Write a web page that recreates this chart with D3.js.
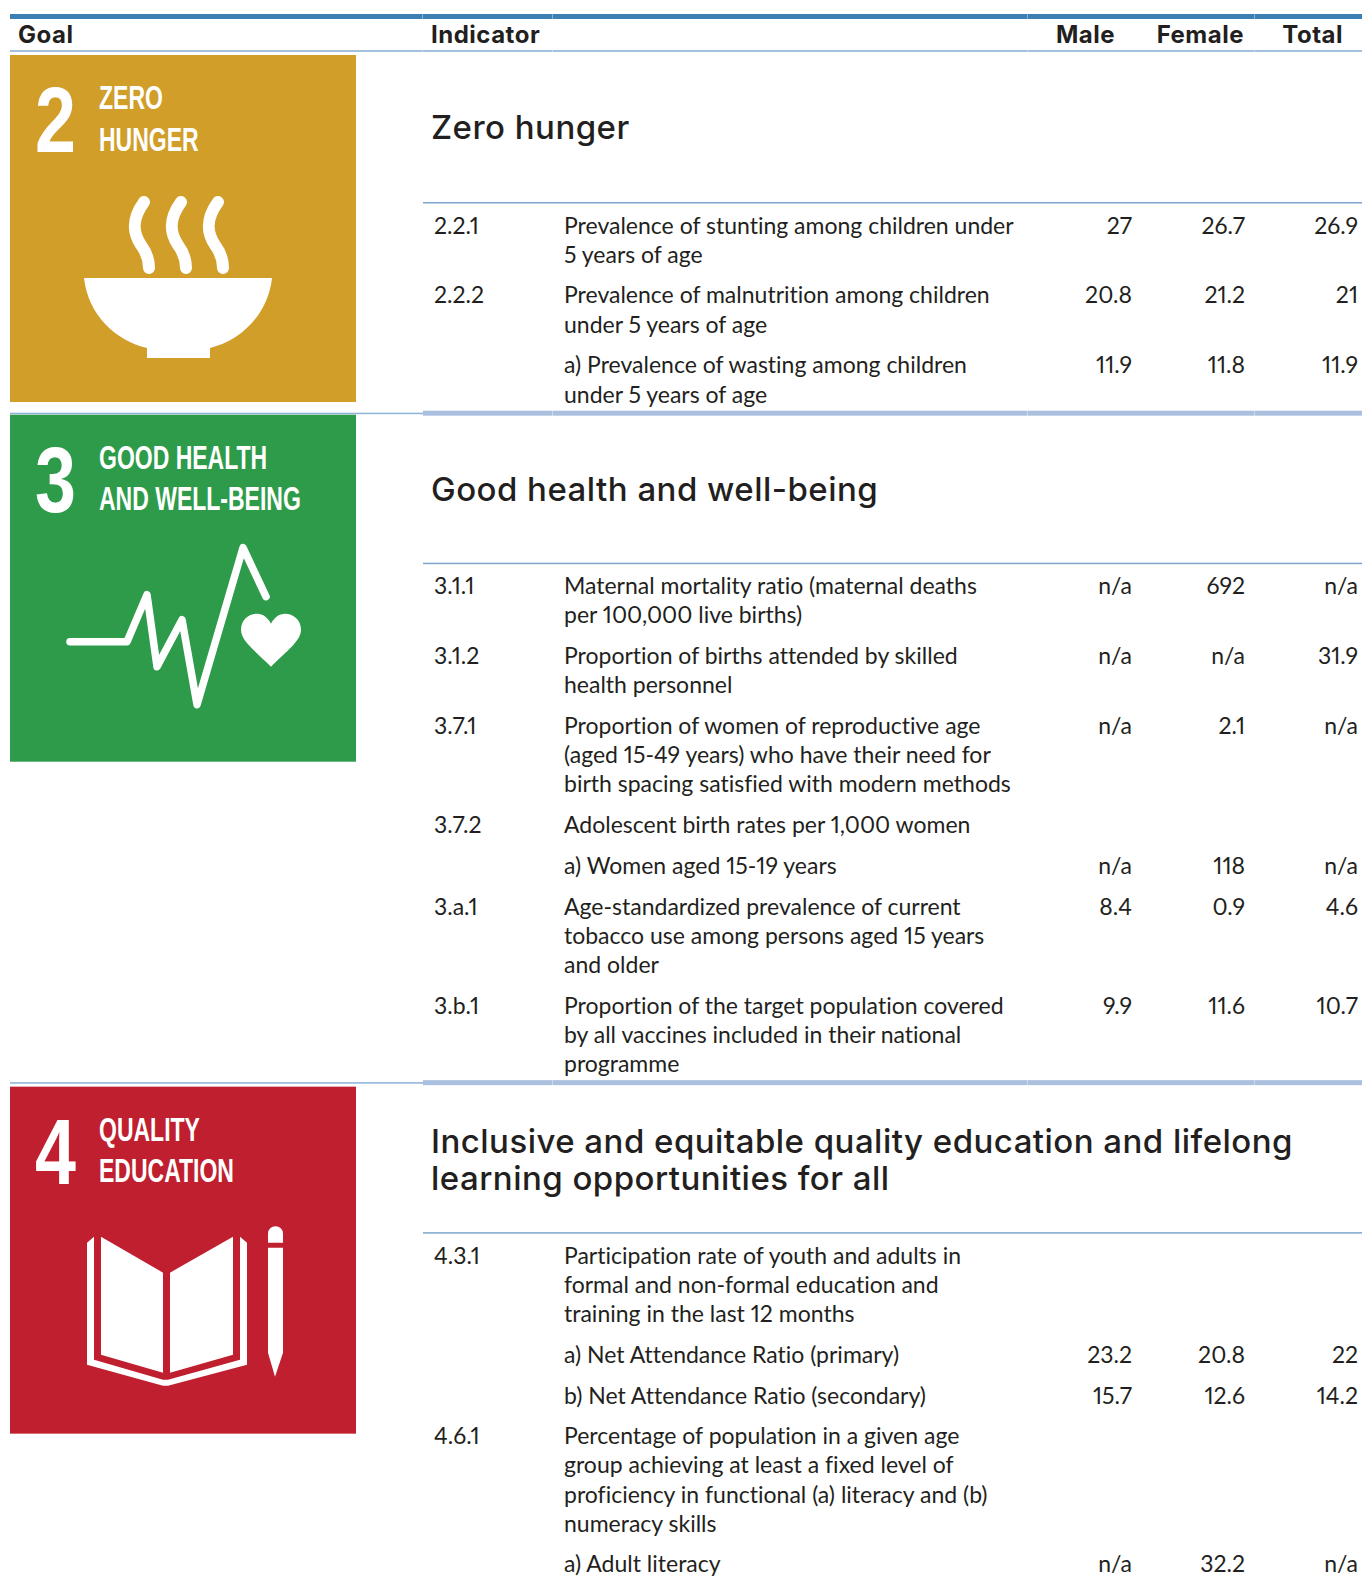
<!DOCTYPE html>
<html>
<head>
<meta charset="utf-8">
<script src="https://cdn.jsdelivr.net/npm/d3@7"></script>
<style>
  html, body { margin: 0; padding: 0; background: #fff; }
  svg { display: block; }
  text { fill: #231f20; }
  .head { font: 700 24px "Inter", sans-serif; letter-spacing: .5px; }
  .title { font: 500 33px "Inter", sans-serif; letter-spacing: .47px; }
  .cell { font: 400 23px "Lato", sans-serif; font-variant-numeric: proportional-nums; font-variant-ligatures: none; }
  .tile text { fill: #fff; font-family: "Liberation Sans Narrow", "Liberation Sans", sans-serif; font-weight: 700; }
</style>
</head>
<body>
<div id="table"></div>
<script>
let width = 1362, height = 1576;

// Column heads
const headLabels = ['Goal', 'Indicator', 'Male', 'Female', 'Total'];

// Goal 2
const hungerTitle = ['Zero hunger'];
const hungerCodes = ['2.2.1', '2.2.2', ''];
const hungerLabels = [
  ['Prevalence of stunting among children under', '5 years of age'],
  ['Prevalence of malnutrition among children', 'under 5 years of age'],
  ['a) Prevalence of wasting among children', 'under 5 years of age']
];
const hungerMale = ['27', '20.8', '11.9'];
const hungerFemale = ['26.7', '21.2', '11.8'];
const hungerTotal = ['26.9', '21', '11.9'];

// Goal 3
const healthTitle = ['Good health and well-being'];
const healthCodes = ['3.1.1', '3.1.2', '3.7.1', '3.7.2', '', '3.a.1', '3.b.1'];
const healthLabels = [
  ['Maternal mortality ratio (maternal deaths', 'per 100,000 live births)'],
  ['Proportion of births attended by skilled', 'health personnel'],
  ['Proportion of women of reproductive age', '(aged 15-49 years) who have their need for', 'birth spacing satisfied with modern methods'],
  ['Adolescent birth rates per 1,000 women'],
  ['a) Women aged 15-19 years'],
  ['Age-standardized prevalence of current', 'tobacco use among persons aged 15 years', 'and older'],
  ['Proportion of the target population covered', 'by all vaccines included in their national', 'programme']
];
const healthMale = ['n/a', 'n/a', 'n/a', '', 'n/a', '8.4', '9.9'];
const healthFemale = ['692', 'n/a', '2.1', '', '118', '0.9', '11.6'];
const healthTotal = ['n/a', '31.9', 'n/a', '', 'n/a', '4.6', '10.7'];

// Goal 4
const educationTitle = ['Inclusive and equitable quality education and lifelong', 'learning opportunities for all'];
const educationCodes = ['4.3.1', '', '', '4.6.1', ''];
const educationLabels = [
  ['Participation rate of youth and adults in', 'formal and non-formal education and', 'training in the last 12 months'],
  ['a) Net Attendance Ratio (primary)'],
  ['b) Net Attendance Ratio (secondary)'],
  ['Percentage of population in a given age', 'group achieving at least a fixed level of', 'proficiency in functional (a) literacy and (b)', 'numeracy skills'],
  ['a) Adult literacy']
];
const educationMale = ['', '23.2', '15.7', '', 'n/a'];
const educationFemale = ['', '20.8', '12.6', '', '32.2'];
const educationTotal = ['', '22', '14.2', '', 'n/a'];

// Tile texts and colours
const tileNumbers = ['2', '3', '4'];
const tileNames = [['ZERO', 'HUNGER'], ['GOOD HEALTH', 'AND WELL-BEING'], ['QUALITY', 'EDUCATION']];
const tileColors = ['#d09e29', '#2d9b49', '#c01f2f'];

// table built from the lists above
let goals = [
  { title: hungerTitle, codes: hungerCodes, labels: hungerLabels, male: hungerMale, female: hungerFemale, total: hungerTotal },
  { title: healthTitle, codes: healthCodes, labels: healthLabels, male: healthMale, female: healthFemale, total: healthTotal },
  { title: educationTitle, codes: educationCodes, labels: educationLabels, male: educationMale, female: educationFemale, total: educationTotal }
];

let svg = d3.select('#table')
  .append('svg')
  .attr('width', width)
  .attr('height', height);

// columns
let seams = [10, 423, 553, 1028, 1255, 1362];
let colX = d3.scaleOrdinal()
  .domain(['code', 'label', 'male', 'female', 'total'])
  .range([434, 564, 1132, 1245, 1358]);

// y position from a number of text lines + number of row gaps
let lineH = 29.15, gapH = 11.6, titleH = 151;
let flowY = (lines, gaps) => lines * lineH + gaps * gapH;

// band across the columns, with faint seams where cells meet
let band = (y, h, color, from, to) => {
  d3.pairs(seams).filter(p => p[0] >= from && p[1] <= to).forEach(p => {
    svg.append('rect')
      .attr('x', p[0]).attr('y', y)
      .attr('width', p[1] - p[0] - (p[1] < width ? .4 : 0)).attr('height', h)
      .attr('fill', color);
  });
};

// head
band(14, 5, '#3b7fb4', 10, 1362);
band(50, 2, '#a3c0da', 10, 1362);
let headX = [18, 431, 1115, 1244, 1343];
svg.selectAll('.head')
  .data(headLabels)
  .enter()
  .append('text')
  .attr('class', 'head')
  .attr('x', (d, i) => headX[i])
  .attr('y', 43)
  .attr('text-anchor', (d, i) => i < 2 ? 'start' : 'end')
  .text(d => d);

// tile pictures, in tile coordinates
let drawBowl = g => {
  [0, 37, 74].forEach(dx => {
    g.append('path')
      .attr('d', `M${134 + dx},147 C${121 + dx},165 ${123 + dx},178 ${131 + dx},190 C${137 + dx},198 ${139 + dx},205 ${139 + dx},213`)
      .attr('fill', 'none').attr('stroke', '#fff').attr('stroke-width', 12).attr('stroke-linecap', 'round');
  });
  g.append('path')
    .attr('d', 'M74,223 L262,223 C258,260 230,286 200,293 L200,303 L137,303 L137,293 C106,286 78,260 74,223 Z')
    .attr('fill', '#fff');
};

let drawPulse = g => {
  let line = d3.line();
  g.append('path')
    .attr('d', line([[60, 227], [117, 227], [137, 180], [147, 252], [172, 205], [187, 290], [233, 133], [256, 182]]))
    .attr('fill', 'none').attr('stroke', '#fff').attr('stroke-width', 7.5)
    .attr('stroke-linecap', 'round').attr('stroke-linejoin', 'round');
  g.append('path')
    .attr('d', 'M261,252 C245,236 231,226 231,215 C231,205 239,199 247,199 C253,199 258,203 261,209 C264,203 269,199 275,199 C283,199 291,205 291,215 C291,226 277,236 261,252 Z')
    .attr('fill', '#fff');
};

let drawBook = g => {
  g.append('path')
    .attr('d', 'M91,150 L153,186 L153,286 L91,268 Z M160,186 L223,150 L223,268 L160,286 Z M77,156 L84,150 L84,273 L153,293 L158,293 L230,273 L230,150 L237,156 L237,278 L158,299 L153,299 L77,278 Z')
    .attr('fill', '#fff');
  g.append('path')
    .attr('d', 'M258,156 L258,147 A7.5,7.5 0 0 1 273,147 L273,156 Z M258,161 L273,161 L273,266 L265,290 L258,266 Z')
    .attr('fill', '#fff');
};

let tileDraw = [drawBowl, drawPulse, drawBook];
let tileDrop = [3, 2, 4.5];
let titleDrop = [75.5, 76.5, 77.5];

// goal sections
let sectionTop = 52;
goals.forEach((goal, k) => {
  let tile = svg.append('g')
    .attr('class', 'tile')
    .attr('transform', `translate(10,${sectionTop + tileDrop[k]})`);

  tile.append('rect').attr('width', 346).attr('height', 347).attr('fill', tileColors[k]);
  tile.append('text')
    .attr('transform', `translate(25,97) scale(.8,1)`)
    .style('font-size', '92px')
    .text(tileNumbers[k]);
  tileNames[k].forEach((name, i) => {
    tile.append('text')
      .attr('transform', `translate(89,${54 + i * 41.5}) scale(.92,1.33)`)
      .style('font-size', '25px')
      .text(name);
  });
  tileDraw[k](tile);

  // section title, centred over the rule below it
  let titleMid = sectionTop + titleDrop[k];
  let titleGap = 37;
  goal.title.forEach((t, i) => {
    svg.append('text')
      .attr('class', 'title')
      .attr('x', 431)
      .attr('y', titleMid + (i - (goal.title.length - 1) / 2) * titleGap)
      .attr('dy', '.35em')
      .text(t);
  });

  let ruleY = sectionTop + titleH;
  svg.append('rect').attr('x', 423).attr('y', ruleY - 1).attr('width', width - 423).attr('height', 1.5).attr('fill', '#7ea6cc');

  let used = 0;
  goal.labels.forEach((lines, r) => {
    let y = ruleY + flowY(used, r) + 22.5;
    let row = svg.append('g').attr('class', 'row');

    row.selectAll('.lab')
      .data(lines)
      .enter()
      .append('text')
      .attr('class', 'cell')
      .attr('x', colX('label'))
      .attr('y', (d, i) => y + i * lineH)
      .attr('dy', '.35em')
      .text(d => d);

    row.append('text').attr('class', 'cell')
      .attr('x', colX('code')).attr('y', y).attr('dy', '.35em')
      .text(goal.codes[r]);

    ['male', 'female', 'total'].forEach(c => {
      row.append('text').attr('class', 'cell')
        .attr('x', colX(c)).attr('y', y).attr('dy', '.35em')
        .attr('text-anchor', 'end')
        .text(goal[c][r]);
    });

    used += lines.length;
  });

  let bottom = ruleY + flowY(used, goal.labels.length);
  if (k < goals.length - 1) {
    svg.append('rect').attr('x', 10).attr('y', bottom).attr('width', 413).attr('height', 1.5).attr('fill', '#8db3d9');
    band(bottom - 2, 5, '#aac0de', 423, 1362);
  }
  sectionTop = bottom;
});
</script>
</body>
</html>
